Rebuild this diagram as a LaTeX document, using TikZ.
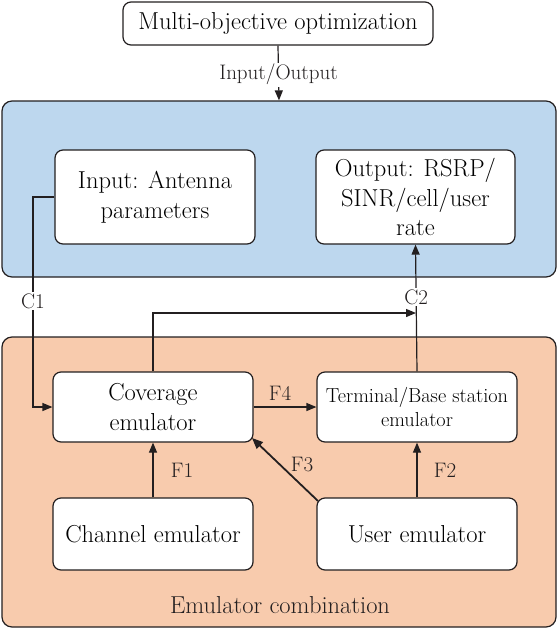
\documentclass[tikz,border=0pt]{standalone}
\usetikzlibrary{arrows.meta}
\definecolor{panelblue}{HTML}{BDD7EE}
\definecolor{panelorange}{HTML}{F8CBAD}
\definecolor{ink}{HTML}{231F20}
\tikzset{
  box/.style={draw=ink, line width=1.2pt, rounded corners=8pt, fill=white, align=center,
    inner sep=0pt, font=\fontsize{24.5}{29.5}\selectfont},
  panel/.style={draw=ink, line width=1.2pt, rounded corners=10pt, inner sep=0pt},
  lab/.style={font=\fontsize{21}{25}\selectfont, inner sep=1.5pt, text=ink},
  conn/.style={draw=ink, line width=1.2pt},
  arr/.style={conn, -{Triangle[length=10pt,width=8pt]}},
}
\begin{document}
\begin{tikzpicture}[x=1pt,y=-1pt]
\useasboundingbox (0,0) rectangle (558,630);
% panels
\node[panel, fill=panelblue, minimum width=554pt, minimum height=176pt] (bluepanel) at (279,189) {};
\node[panel, fill=panelorange, minimum width=554pt, minimum height=290pt] (orangepanel) at (279,482) {};
% boxes
\node[box, minimum width=310pt, minimum height=43pt] (top) at (278,23.5) {Multi-objective optimization};
\node[box, minimum width=200pt, minimum height=94pt] (input) at (155,197) {Input: Antenna\\parameters};
\node[box, minimum width=199pt, minimum height=94pt] (output) at (415.5,197) {Output: RSRP/\\SINR/cell/user\\rate};
\node[box, minimum width=200pt, minimum height=70pt] (coverage) at (153,407) {Coverage\\emulator};
\node[box, minimum width=200pt, minimum height=70pt, font=\fontsize{20.3}{24}\selectfont] (terminal) at (417,407) {Terminal/Base station\\emulator};
\node[box, minimum width=200pt, minimum height=72pt] (channel) at (153,534) {Channel emulator};
\node[box, minimum width=200pt, minimum height=72pt] (user) at (417,534) {User emulator};
\node[lab, font=\fontsize{24.5}{29}\selectfont] (combo) at (280,605) {Emulator combination};
% connectors
\draw[arr] (top.south) -- node[lab, pos=0.53, fill=white] (io) {Input/Output} (bluepanel.north);
\coordinate (c1top) at (33,197);
\coordinate (c1bot) at (33,407);
\draw[arr] (input.west) -- (c1top) -- node[lab, pos=0.495, fill=white] (c1) {C1} (c1bot) -- (coverage.west);
\draw[arr] (terminal.north) -- node[lab, pos=0.586, fill=white] (c2) {C2} (output.south);
\coordinate (c2join) at (416,313);
\draw[arr] (coverage.north) |- (c2join);
\draw[arr] (coverage.east) -- (terminal.west);
\node[lab] (f4) at (280,393) {F4};
\draw[arr] (channel.north) -- (coverage.south);
\node[lab] (f1) at (182,470) {F1};
\draw[arr] (user.north) -- (terminal.south);
\node[lab] (f2) at (445,470) {F2};
\coordinate (f3start) at (318,501);
\coordinate (f3end) at (252,438);
\draw[conn, line width=1.8pt, -{Triangle[length=11pt,width=9pt]}] (f3start) -- (f3end);
\node[lab] (f3) at (302,465) {F3};
\end{tikzpicture}
\end{document}
